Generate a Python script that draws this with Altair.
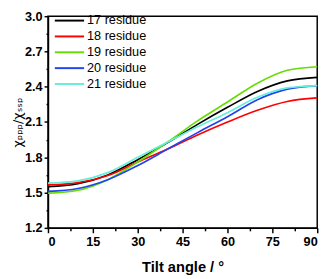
import altair as alt
import pandas as pd

angles = [0, 10, 20, 30, 40, 50, 60, 70, 80, 90]
series_names = ["17 residue", "18 residue", "19 residue", "20 residue", "21 residue"]
r17 = [1.55, 1.575, 1.65, 1.78, 1.925, 2.08, 2.225, 2.36, 2.45, 2.48]
r18 = [1.565, 1.585, 1.645, 1.76, 1.87, 1.99, 2.10, 2.20, 2.275, 2.305]
r19 = [1.495, 1.52, 1.61, 1.76, 1.93, 2.11, 2.27, 2.43, 2.54, 2.57]
r20 = [1.51, 1.535, 1.61, 1.73, 1.87, 2.01, 2.145, 2.29, 2.38, 2.41]
r21 = [1.58, 1.60, 1.67, 1.80, 1.93, 2.06, 2.18, 2.31, 2.39, 2.41]
colors = ["#000000", "#ff0000", "#66dd00", "#2244ee", "#66eedd"]

x_ticks = [0, 7.5, 15, 22.5, 30, 37.5, 45, 52.5, 60, 67.5, 75, 82.5, 90]
y_ticks = [1.2, 1.35, 1.5, 1.65, 1.8, 1.95, 2.1, 2.25, 2.4, 2.55, 2.7, 2.85, 3.0]

rows = []
for name, vals in zip(series_names, [r17, r18, r19, r20, r21]):
    for a, v in zip(angles, vals):
        rows.append({"angle": a, "value": v, "series": name})
df = pd.DataFrame(rows)
legend_df = pd.DataFrame({"series": series_names})

color = alt.Color("series:N", scale=alt.Scale(domain=series_names, range=colors), legend=None)

lines = alt.Chart(df).mark_line(strokeWidth=1.7, interpolate="monotone").encode(
    x=alt.X("angle:Q", scale=alt.Scale(domain=[0, 90], nice=False),
            axis=alt.Axis(values=x_ticks, title="Tilt angle / °",
                          labelExpr="datum.value % 15 === 0 ? datum.label : ''",
                          tickSize={"condition": {"test": "datum.value % 15 === 0", "value": 5}, "value": 3},
                          labelPadding=3, titlePadding=12,
                          titleFontSize=15, titleFontWeight="bold")),
    y=alt.Y("value:Q", scale=alt.Scale(domain=[1.2, 3.0], nice=False, zero=False),
            axis=alt.Axis(values=y_ticks, title="χₚₚₚ/χₛₛₚ",
                          labelExpr="round(datum.value*100) % 30 === 0 ? format(datum.value, '.1f') : ''",
                          tickSize={"condition": {"test": "round(datum.value*100) % 30 === 0", "value": 4}, "value": 2},
                          labelPadding=2, titlePadding=0,
                          titleFont="DejaVu Sans", titleFontSize=13, titleFontWeight="normal")),
    color=color,
)

ly = alt.Y("series:N", scale=alt.Scale(type="point", domain=series_names, range=[4.5, 69.5], padding=0), axis=None)

legend_rules = alt.Chart(legend_df).mark_rule(strokeWidth=2).encode(
    x=alt.value(7), x2=alt.value(37), y=ly, color=color)
legend_text = alt.Chart(legend_df).mark_text(align="left", baseline="middle", fontSize=13,
                                             font="Liberation Sans").encode(
    x=alt.value(40), y=ly, text="series:N")

chart = alt.layer(lines, legend_rules, legend_text).resolve_scale(y="independent").properties(
    width=276, height=217,
    autosize=alt.AutoSizeParams(type="none"),
    padding={"left": 41, "top": 5, "right": 9, "bottom": 49},
).configure_view(stroke="black", strokeWidth=1.5).configure_axis(
    domainColor="black", domainWidth=1.5, tickColor="black", tickWidth=1.5,
    labelFont="Liberation Sans", labelFontSize=13, labelFontWeight="bold", labelColor="black",
    titleFont="Liberation Sans", titleColor="black", grid=False,
)

chart.save("out.html", embed_options={"renderer": "svg", "actions": False})
